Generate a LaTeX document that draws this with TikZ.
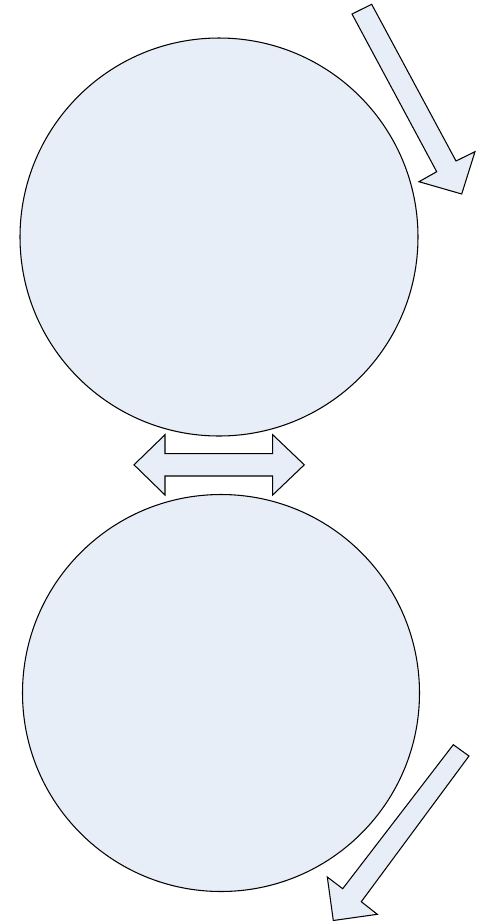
\documentclass[tikz,border=0pt]{standalone}
\usetikzlibrary{calc}
\definecolor{RollClr}{RGB}{232,238,247}

\begin{document}
\begin{tikzpicture}[x=0.02cm,y=-0.02cm]
\tikzset{roll/.style={draw=black,fill=RollClr,line width=0.6pt,line join=miter}}
\useasboundingbox (0,0) rectangle (481,921);

\coordinate (O1) at (219,237);
\coordinate (O2) at (221,693);

% top arrow
\coordinate (T1) at (352,14);
\coordinate (T2) at (371.7,4.3);
\coordinate (T3) at (456,161);
\coordinate (T4) at (475,151.7);
\coordinate (T5) at (461.7,194);
\coordinate (T6) at (419,181.7);
\coordinate (T7) at (436.7,171.7);

% double arrow
\coordinate (D1) at (134,464.8);
\coordinate (D2) at (165,434.7);
\coordinate (D3) at (165,453.7);
\coordinate (D4) at (272.7,453.7);
\coordinate (D5) at (272.7,434.7);
\coordinate (D6) at (304.3,464.8);
\coordinate (D7) at (272.7,495);
\coordinate (D8) at (272.7,476);
\coordinate (D9) at (165,476);
\coordinate (D10) at (165,495);

% bottom arrow
\coordinate (B1) at (469,756);
\coordinate (B2) at (453.3,744.7);
\coordinate (B3) at (342.7,888.7);
\coordinate (B4) at (327.3,877);
\coordinate (B5) at (333.3,920.5);
\coordinate (B6) at (377.3,914.3);
\coordinate (B7) at (361.3,901.7);

\draw[roll] (O1) circle (199);
\draw[roll] (O2) circle (198.5);

\draw[roll] (T1)--(T2)--(T3)--(T4)--(T5)--(T6)--(T7)--cycle;
\draw[roll] (D1)--(D2)--(D3)--(D4)--(D5)--(D6)--(D7)--(D8)--(D9)--(D10)--cycle;
\draw[roll] (B1)--(B2)--(B3)--(B4)--(B5)--(B6)--(B7)--cycle;

\end{tikzpicture}
\end{document}
